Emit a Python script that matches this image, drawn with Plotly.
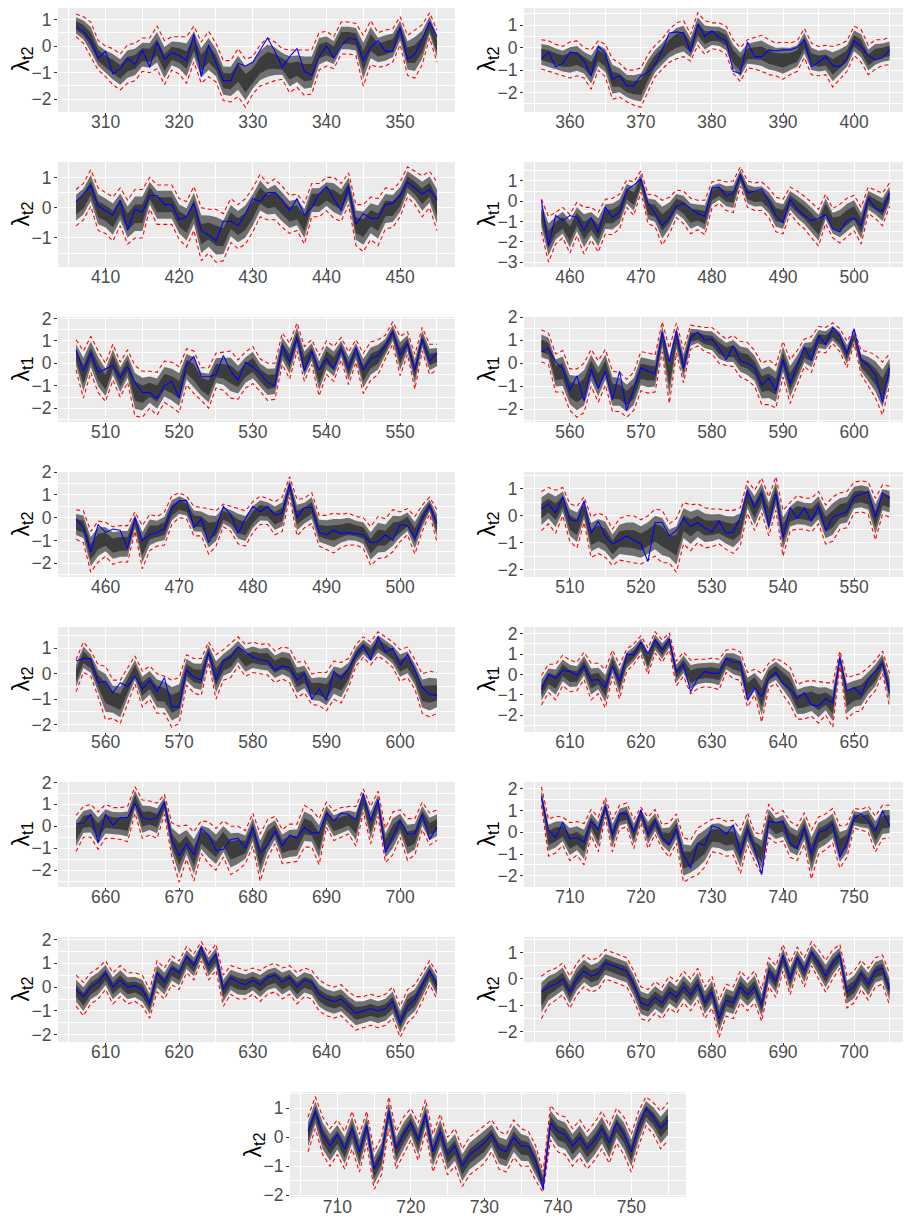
import plotly.graph_objects as go

W, H = 911, 1219
OFF = 8  # page body margin of the html page

# ---------------- data ----------------
starts = [306, 356, 406, 456, 506, 556, 456, 506, 556, 606, 656, 706, 606, 656, 706]
labels = ["t2", "t2", "t2", "t1", "t1", "t1", "t2", "t2", "t2", "t1", "t1", "t1", "t2", "t2", "t2"]

obs1 = [0.71, 0.55, 0.2, -0.45, -0.2, -1.05, -0.85, -0.45, -0.7, -0.15,
        -0.8, 0.15, -0.5, -0.25, -0.35, -0.55, 0.45, -1.15, 0.05, -0.6,
        -1.3, -1.3, -0.65, -0.75, -0.6, -0.15, 0.3, -0.2, -0.8, -0.4,
        -0.1, -0.95, -1.1, -0.4, 0.0, -0.45, 0.0, 0.3, 0.25, -0.55,
        -0.05, 0.2, -0.2, -0.2, 0.7, -0.5, -0.3, 0.25, 0.9, 0.35]
hi1 = [1.2, 1.1, 0.9, 0.2, 0.0, -0.1, -0.3, 0.05, 0.1, 0.3,
       0.3, 0.75, 0.2, 0.35, 0.35, 0.35, 0.75, 0.15, 0.55, 0.1,
       -0.55, -0.55, -0.1, -0.5, -0.4, 0.05, 0.3, 0.15, -0.1, -0.15,
       -0.15, -0.15, -0.15, 0.5, 0.55, 0.35, 0.9, 0.9, 0.85, 0.4,
       0.95, 0.5, 0.6, 0.65, 1.1, 0.4, 0.6, 0.8, 1.25, 0.6]
lo1 = [0.35, 0.1, -0.4, -0.9, -1.15, -1.45, -1.65, -1.4, -1.3, -0.95,
       -1.0, -0.85, -1.45, -0.9, -1.05, -1.4, -0.6, -1.4, -1.15, -1.35,
       -2.05, -2.1, -1.9, -2.3, -1.8, -1.5, -1.4, -1.3, -1.25, -1.75,
       -1.55, -1.85, -1.8, -0.9, -0.75, -0.85, -0.3, -0.3, -0.35, -1.5,
       -0.7, -0.8, -0.75, -0.6, 0.05, -1.1, -1.2, -0.7, 0.3, -0.6]

obs2 = [-0.5, -0.2, -0.85, -0.7, -0.2, -0.25, -0.6, -1.25, 0.05, -0.25,
        -1.4, -1.25, -1.7, -1.7, -1.25, -1.1, -0.75, -0.1, 0.65, 0.7,
        0.65, -0.2, 1.05, 0.5, 0.75, 0.45, 0.3, -1.05, -1.15, 0.25,
        -0.4, -0.4, -0.1, -0.15, -0.1, -0.1, 0.0, 0.35, -0.85, -0.65,
        -0.4, -0.8, -0.85, -0.5, 0.3, 0.05, -0.35, -0.55, -0.45, -0.1]
hi2 = [0.35, 0.3, 0.15, 0.05, 0.25, 0.3, 0.0, -0.1, 0.3, 0.15,
       -0.5, -0.7, -1.0, -1.0, -0.9, -0.3, 0.1, 0.4, 0.8, 1.1,
       1.2, 0.6, 1.55, 1.2, 1.1, 1.1, 0.95, 0.35, 0.0, 0.35,
       0.45, 0.55, 0.35, 0.2, 0.25, 0.2, 0.3, 0.85, 0.2, 0.05,
       0.1, 0.05, 0.15, 0.3, 0.95, 0.8, 0.1, 0.35, 0.35, 0.45]
lo2 = [-0.95, -1.05, -1.15, -1.25, -1.35, -1.25, -1.35, -1.85, -1.0, -1.3,
       -2.3, -2.2, -2.4, -2.55, -2.65, -1.95, -1.3, -0.95, -0.65, -0.5,
       -0.4, -0.6, 0.1, -0.3, -0.05, -0.1, -0.3, -1.15, -1.5, -0.9,
       -0.95, -1.05, -1.2, -1.25, -1.4, -1.2, -1.05, -0.45, -1.2, -1.25,
       -1.2, -1.75, -1.4, -1.05, -0.35, -0.65, -1.2, -0.95, -0.8, -0.75]

obs3 = [0.2, 0.45, 0.75, 0.05, -0.1, -0.25, 0.25, -0.75, -0.05, -0.15,
        0.4, 0.4, 0.1, 0.1, -0.4, -0.3, 0.15, -0.75, -0.9, -1.1,
        -0.45, -0.45, -0.6, -0.2, 0.3, 0.2, 0.5, 0.5, 0.25, -0.1,
        0.3, -0.25, 0.0, 0.45, 0.7, 0.3, -0.1, 0.7, -0.55, -0.2,
        -0.35, -0.35, 0.1, 0.15, 0.4, 0.85, 0.65, 0.45, 0.6, 0.25]
hi3 = [0.6, 0.8, 1.25, 0.65, 0.5, 0.35, 0.65, 0.25, 0.6, 0.6,
       1.0, 0.75, 0.75, 0.75, 0.3, 0.2, 0.7, 0.0, -0.05, -0.05,
       -0.2, 0.3, 0.1, 0.3, 0.65, 1.1, 0.8, 0.95, 0.7, 0.4,
       0.45, 0.15, 0.8, 0.8, 1.0, 1.0, 0.8, 1.15, 0.1, 0.1,
       0.35, 0.3, 0.65, 0.6, 0.85, 1.35, 1.2, 1.05, 1.2, 0.85]
lo3 = [-0.6, -0.4, 0.05, -0.75, -0.85, -1.1, -0.6, -1.2, -1.0, -1.0,
       -0.05, -0.55, -0.55, -0.55, -1.05, -1.3, -0.75, -1.75, -1.5, -1.8,
       -1.75, -1.15, -1.35, -1.2, -0.8, -0.3, -0.4, -0.4, -0.65, -0.85,
       -0.75, -1.2, -0.3, -0.3, -0.1, -0.35, -0.45, 0.1, -1.25, -1.45,
       -1.05, -1.25, -0.7, -0.65, -0.3, 0.35, 0.1, -0.3, 0.0, -0.75]

obs4 = [0.05, -2.2, -0.7, -0.95, -0.7, -0.8, -1.45, -0.8, -1.55, -0.3,
        -0.8, -0.55, 0.55, 0.8, 1.1, -0.1, -0.6, -1.2, -0.8, -0.25,
        -0.1, -0.35, -0.6, -0.75, 0.65, 0.7, 0.25, 0.4, 1.3, 0.4,
        0.5, 0.6, 0.0, -0.7, -1.05, 0.1, -0.4, -0.7, -0.95, -0.85,
        -0.65, -1.35, -1.5, -0.95, -0.8, -1.2, 0.15, -0.35, -0.5, 0.4]
hi4 = [0.1, -0.75, -0.55, -0.3, -0.65, -0.05, -0.3, -0.3, -0.55, 0.1,
       0.15, 0.35, 1.05, 0.95, 1.5, 0.35, 0.3, 0.05, 0.2, 0.55,
       0.5, 0.15, 0.05, 0.05, 0.95, 1.05, 0.95, 1.0, 1.7, 1.0,
       0.9, 0.95, 0.65, 0.2, 0.1, 0.7, 0.5, 0.25, -0.05, -0.4,
       0.35, -0.35, -0.15, 0.15, 0.3, -0.3, 0.7, 0.55, 0.4, 0.9]
lo4 = [-1.5, -3.0, -2.1, -1.8, -2.55, -1.7, -2.6, -1.9, -2.5, -1.6,
       -1.65, -1.35, -0.3, -0.7, 0.45, -1.1, -1.25, -2.15, -1.6, -0.8,
       -1.1, -1.6, -1.4, -1.65, -0.35, -0.1, -0.45, -0.55, 0.75, -0.3,
       -0.45, -0.45, -0.8, -1.5, -1.6, -0.6, -1.05, -1.35, -1.8, -2.2,
       -1.1, -1.8, -2.05, -1.75, -1.45, -2.1, -0.6, -0.85, -1.2, -0.25]

obs5 = [0.6, -0.35, 0.45, -0.4, -0.25, -0.1, -0.65, -0.15, -0.85, -1.3,
        -1.3, -1.55, -1.0, -0.8, -1.55, -0.05, 0.3, -0.6, -0.6, -0.5,
        0.35, -0.35, -0.75, 0.05, -0.15, -0.45, -0.85, -1.0, 0.8, 0.05,
        1.15, -0.35, 0.55, -0.3, 0.2, -0.25, 0.65, -0.25, 0.7, -0.3,
        0.2, 0.35, 0.8, 1.4, 0.35, 0.9, -0.3, 1.1, 0.1, 0.45]
hi5 = [1.05, 0.55, 1.2, 0.55, 0.0, 0.85, 0.05, 0.6, -0.1, -0.35,
       -0.35, -0.4, 0.1, 0.05, -0.15, 0.65, 0.55, -0.2, -0.2, 0.45,
       0.5, 0.55, 0.15, 0.5, 0.75, 0.2, 0.0, 0.0, 1.35, 0.9,
       1.8, 0.75, 1.05, 0.35, 1.0, 0.75, 1.15, 0.5, 1.05, 0.45,
       0.95, 1.05, 1.25, 1.85, 1.2, 1.4, 0.4, 1.6, 0.85, 0.85]
lo5 = [-0.3, -1.55, -0.4, -1.3, -1.7, -0.75, -1.5, -0.85, -2.35, -2.4,
       -2.0, -2.3, -1.75, -1.95, -2.2, -0.95, -1.35, -1.65, -2.0, -1.1,
       -1.2, -1.55, -1.6, -1.1, -0.9, -1.25, -1.65, -1.6, -0.05, -0.7,
       0.55, -0.8, -0.05, -1.45, -0.5, -0.8, 0.15, -0.95, 0.05, -1.35,
       -0.75, -0.5, 0.2, 0.85, -0.55, 0.4, -1.15, 0.55, -0.5, -0.3]

obs6 = [0.5, 0.65, 0.05, -0.25, -1.2, -0.55, -1.65, -0.25, -1.1, -0.35,
        -1.6, -0.35, -2.05, -1.1, -0.2, -0.35, -0.45, 1.35, 0.05, 1.4,
        -0.25, 1.1, 1.35, 1.0, 1.05, 0.65, 0.15, 0.75, 0.1, 0.0,
        -0.2, -0.95, -0.65, -1.2, 0.15, -0.9, -0.1, 0.7, 0.1, 1.2,
        0.8, 1.55, 1.2, 0.4, 1.5, 0.15, -0.1, -0.5, -1.7, -0.2]
hi6 = [1.45, 1.3, 0.4, 0.55, -0.25, -0.25, 0.0, 0.6, 0.1, 0.6,
       -0.35, -0.4, -0.7, -0.4, 0.5, 0.45, 0.35, 1.8, 0.65, 1.75,
       0.6, 1.65, 1.6, 1.55, 1.55, 1.3, 1.05, 1.2, 0.95, 0.9,
       0.55, 0.0, 0.15, -0.1, 0.95, 0.15, 0.55, 1.05, 1.15, 1.6,
       1.55, 1.75, 1.5, 0.95, 1.45, 0.55, 0.5, 0.35, 0.05, 0.4]
lo6 = [0.05, -0.05, -1.25, -1.25, -2.05, -2.35, -2.15, -1.0, -1.7, -0.95,
       -2.1, -2.1, -2.35, -2.05, -1.2, -1.3, -1.25, 0.5, -1.75, 0.45,
       -0.85, 0.6, 0.75, 0.5, 0.4, 0.0, -0.1, -0.15, -0.6, -0.75,
       -1.0, -1.8, -1.8, -1.95, -0.6, -1.75, -0.95, -0.15, -0.4, 0.5,
       0.45, 0.85, 0.5, -0.2, 0.85, -0.5, -1.0, -1.5, -2.25, -0.95]

obs7 = [-0.05, -0.45, -1.5, -0.3, -0.65, -0.5, -0.55, -1.35, 0.0, -1.0,
        -0.75, -0.65, -0.5, 0.4, 0.75, 0.75, -0.45, -0.05, -1.1, -0.5,
        0.5, 0.15, -0.7, -0.05, 0.5, 0.25, 0.5, 0.1, 0.2, 1.5,
        0.0, 0.45, 0.45, -0.65, -0.75, -0.55, -0.7, -0.65, -0.7, -0.75,
        -1.1, -1.05, -0.75, -1.0, -0.3, -0.35, -0.9, -0.05, 0.55, -0.25]
hi7 = [0.35, 0.3, -0.6, -0.15, -0.2, -0.4, -0.35, -0.35, 0.25, -0.35,
       0.15, 0.05, 0.25, 0.95, 1.1, 0.95, 0.5, 0.45, 0.4, 0.3,
       0.6, 0.5, 0.4, 0.3, 0.7, 0.95, 0.85, 0.7, 0.9, 1.8,
       0.8, 0.85, 1.1, 0.1, 0.1, 0.2, 0.15, 0.2, 0.05, 0.0,
       -0.4, 0.05, -0.05, 0.35, 0.25, 0.4, 0.05, 0.55, 0.9, 0.35]
lo7 = [-0.95, -1.1, -2.4, -1.95, -1.7, -2.05, -1.95, -1.95, -0.6, -2.25,
       -1.45, -1.25, -1.2, -0.3, 0.0, -0.05, -0.8, -0.8, -1.6, -1.25,
       -0.4, -0.6, -1.15, -1.25, -0.65, -0.3, -0.3, -0.75, -0.6, 0.9,
       -0.8, -0.45, -0.25, -1.25, -1.4, -1.55, -1.3, -1.2, -1.2, -1.35,
       -2.1, -1.8, -1.75, -1.5, -1.05, -0.75, -1.6, -0.6, 0.15, -1.05]

obs8 = [0.25, 0.45, 0.1, 0.7, -0.15, -0.2, 0.55, -0.65, -0.2, -0.75,
        -1.05, -0.9, -0.75, -0.9, -1.05, -1.7, -0.25, -0.25, -0.75, -0.55,
        -0.1, -0.4, -0.25, -0.45, -0.6, -0.2, -0.65, -0.6, -0.05, 0.95,
        0.3, 0.85, -0.4, 0.85, -0.8, 0.3, -0.1, 0.3, -0.2, 0.35,
        -0.55, -0.05, 0.05, 0.15, 0.7, 0.8, 0.9, -0.05, 0.85, 0.65]
hi8 = [0.9, 1.05, 0.95, 1.05, 0.45, 0.35, 0.7, -0.05, 0.1, 0.0,
       -0.5, -0.1, 0.0, 0.0, -0.15, 0.0, 0.25, 0.2, -0.3, -0.1,
       0.5, 0.4, 0.45, 0.3, 0.25, 0.25, 0.2, 0.2, 0.3, 1.3,
       0.95, 1.4, 0.7, 1.45, 0.2, 0.5, 0.75, 0.65, 0.65, 0.9,
       0.4, 0.7, 0.85, 0.9, 1.25, 1.3, 1.25, 0.65, 1.15, 1.1]
lo8 = [-0.55, -0.3, -0.65, 0.0, -0.95, -1.2, -0.25, -1.55, -1.4, -1.55,
       -1.85, -1.65, -1.7, -1.75, -1.8, -1.65, -1.5, -1.75, -1.75, -2.1,
       -1.05, -1.3, -1.0, -1.2, -1.15, -1.05, -1.25, -1.4, -1.1, 0.1,
       -0.55, 0.1, -0.75, 0.2, -1.5, -0.55, -0.5, -0.5, -0.6, -0.3,
       -1.05, -0.95, -0.5, -0.45, 0.1, 0.15, 0.05, -0.9, 0.05, -0.05]

obs9 = [0.5, 0.6, 0.6, -0.35, -0.3, -0.75, -0.35, -0.5, -0.1, -0.6,
        -0.25, -0.7, -0.15, -1.3, -1.3, 0.15, -0.15, -0.25, 0.85, -0.25,
        0.5, 0.65, 1.05, 0.85, 0.65, 0.55, 0.5, 0.15, 0.3, 0.25,
        -0.25, 0.0, -1.0, -0.6, -1.05, 0.1, -0.2, 0.2, 0.75, 1.1,
        0.55, 1.45, 0.85, 1.0, 0.35, 0.75, 0.15, -0.55, -0.8, -0.85]
hi9 = [0.55, 1.25, 0.9, 0.35, 0.3, -0.25, -0.25, 0.25, 0.7, 0.1,
       0.3, 0.0, -0.1, -0.25, -0.15, 0.75, 0.6, 0.6, 1.25, 0.75,
       0.95, 1.2, 1.45, 1.15, 1.25, 1.15, 1.2, 0.9, 1.05, 1.0,
       0.45, 0.5, 0.0, 0.05, 0.05, 0.5, 0.45, 0.6, 1.15, 1.45,
       1.25, 1.65, 1.45, 1.25, 0.95, 1.05, 0.55, 0.0, 0.1, 0.05]
lo9 = [-0.7, 0.05, -0.1, -0.9, -1.8, -1.75, -1.95, -1.15, -0.4, -1.3,
       -1.0, -1.55, -1.55, -2.1, -1.95, -0.45, -0.75, -0.85, 0.45, -1.0,
       -0.25, -0.15, 0.3, -0.1, 0.05, 0.0, -0.05, -0.35, -0.2, -0.35,
       -0.95, -0.75, -1.2, -1.25, -1.45, -1.0, -1.15, -0.55, 0.3, 0.65,
       0.35, 0.7, 0.5, 0.25, -0.3, -0.15, -0.6, -1.55, -1.7, -1.55]

obs10 = [-0.75, 0.0, -0.2, 0.2, 0.15, -0.05, 0.4, -0.3, -0.25, -0.65,
         0.4, -0.35, 1.0, 0.95, 1.6, 1.0, 1.7, 1.2, 1.75, 0.1,
         0.5, -0.85, -0.2, 0.15, 0.05, 0.05, 0.8, 0.6, 0.6, -1.25,
         -0.65, -1.1, -0.2, 0.1, -0.45, -0.7, -1.2, -0.9, -1.5, -1.55,
         -1.2, -1.4, 0.85, -0.8, -0.65, -1.0, -0.25, 0.15, 0.55, -0.9]
hi10 = [-0.05, 0.5, 0.5, 0.95, 0.7, 0.6, 1.1, 0.55, 0.55, 0.25,
        1.2, 0.45, 1.25, 1.5, 1.9, 1.3, 2.1, 1.7, 2.05, 0.65,
        1.1, 0.7, 0.75, 0.75, 0.8, 0.75, 1.2, 1.25, 1.1, 0.1,
        0.25, 0.05, 0.55, 0.8, 0.6, 0.35, -0.5, -0.35, -0.3, -0.35,
        -0.4, -0.45, 1.15, -0.15, -0.05, 0.05, 0.35, 0.7, 1.15, 0.05]
lo10 = [-1.5, -0.9, -1.25, -0.55, -0.85, -0.8, -0.25, -1.25, -0.95, -1.65,
        -0.1, -1.2, 0.15, 0.5, 1.0, 0.0, 1.05, 0.6, 1.2, -0.55,
        -0.1, -0.95, -0.7, -0.6, -0.65, -0.75, 0.1, -0.2, -0.3, -1.6,
        -1.0, -2.35, -0.65, -0.45, -1.0, -1.5, -2.2, -2.2, -2.05, -2.4,
        -2.0, -2.6, 0.4, -2.2, -1.85, -1.8, -1.2, -0.8, 0.05, -1.6]

obs11 = [0.1, 0.15, 0.55, -0.75, 0.55, 0.05, 0.4, 0.4, 1.05, 0.4,
         0.3, 0.4, 1.1, -0.6, -1.35, -0.8, -1.3, -0.1, -0.4, -1.1,
         -1.05, -0.6, -0.55, -1.0, -0.05, -1.2, -0.9, -0.2, -0.9, -0.4,
         -0.55, -0.05, -0.3, -0.3, 0.6, 0.25, 0.6, 0.55, 0.3, 1.5,
         0.25, 1.2, -1.2, -0.45, 0.25, -0.35, -0.35, 0.55, -0.6, -0.05]
hi11 = [0.5, 0.9, 1.0, 0.65, 1.0, 0.85, 0.85, 0.9, 1.8, 1.2,
        1.15, 1.05, 1.45, 0.15, 0.0, 0.05, -0.25, 0.25, 0.2, -0.1,
        0.25, 0.0, 0.0, -0.2, 0.6, -0.35, 0.3, 0.45, -0.15, 0.1,
        0.1, 0.95, 0.75, 0.35, 1.1, 0.7, 0.85, 0.9, 0.9, 1.7,
        0.9, 1.6, -0.1, 0.65, 0.75, 0.35, 0.35, 1.1, 0.6, 0.75]
lo11 = [-1.15, -0.5, -0.5, -1.05, -0.55, -0.55, -0.6, -0.7, 0.6, -0.55,
        -0.4, -0.55, 0.55, -1.4, -2.55, -1.5, -2.5, -1.25, -1.7, -2.0,
        -1.4, -2.2, -2.0, -1.7, -0.9, -2.5, -1.45, -0.8, -1.7, -1.65,
        -1.6, -0.95, -0.95, -1.75, -0.05, -0.65, -0.5, -0.35, -0.9, 0.65,
        -0.8, 0.45, -1.65, -1.3, -0.5, -1.55, -1.3, -0.15, -0.85, -0.65]

obs12 = [1.65, 0.1, -0.25, 0.45, -0.3, -0.25, -0.45, 0.5, 0.15, 1.2,
         -0.1, 0.85, 0.85, 0.0, 1.05, -0.1, 0.55, -0.25, -0.55, 0.15,
         -1.05, -1.65, -0.5, -0.6, 0.3, 0.2, -0.1, 0.35, -1.0, 0.15,
         -0.75, -1.95, 0.5, 0.45, 0.5, -0.5, -0.75, 0.2, -1.0, 0.0,
         0.1, 0.4, -1.15, -0.5, 0.65, 0.85, 0.5, 0.05, 1.0, 0.3]
hi12 = [2.1, 0.6, 0.75, 0.7, 0.45, 0.5, 0.4, 1.05, 0.7, 1.6,
        0.6, 1.25, 1.35, 0.6, 1.15, 0.7, 1.05, 0.35, 0.45, 0.85,
        -0.25, -0.35, 0.2, 0.4, 0.6, 0.65, 0.5, 0.55, 0.1, 0.9,
        0.0, -0.1, 1.3, 0.85, 1.0, 0.5, 0.3, 0.9, 0.1, 0.7,
        0.85, 1.1, 0.3, 0.35, 1.1, 1.05, 1.2, 0.75, 1.25, 1.25]
lo12 = [1.25, -1.1, -0.95, -0.6, -1.3, -1.05, -1.5, -0.15, -0.9, 0.7,
        -0.9, 0.15, 0.25, -0.75, 0.45, -0.75, -0.1, -0.75, -1.15, -0.5,
        -2.3, -2.1, -1.95, -1.6, -0.9, -0.95, -1.1, -1.05, -1.9, -0.6,
        -1.35, -1.95, -0.25, -0.5, -0.4, -1.15, -1.3, -0.55, -2.15, -1.0,
        -0.8, -0.5, -1.65, -1.15, 0.2, 0.1, 0.0, -0.9, -0.3, -0.25]

obs13 = [-0.1, -0.4, 0.0, 0.2, 0.6, 0.0, 0.3, 0.0, 0.05, -0.1,
         -0.7, 0.6, 0.2, 0.8, 0.6, 1.3, 0.9, 1.7, 0.9, 1.4,
         -0.1, 0.4, 0.2, 0.1, 0.3, 0.1, 0.4, 0.5, 0.2, 0.4,
         0.0, 0.3, 0.2, -0.3, -0.5, -0.6, -0.5, -0.8, -1.1, -1.0,
         -0.9, -1.0, -0.9, -0.6, -1.5, -0.8, -0.5, 0.1, 0.7, 0.1]
hi13 = [0.5, 0.2, 0.6, 0.8, 1.1, 0.6, 0.9, 0.6, 0.6, 0.5,
        -0.1, 1.1, 0.8, 1.3, 1.1, 1.7, 1.4, 1.9, 1.4, 1.8,
        0.5, 0.9, 0.8, 0.7, 0.8, 0.7, 0.9, 1.0, 0.8, 0.9,
        0.6, 0.8, 0.7, 0.3, 0.1, 0.0, 0.1, -0.2, -0.4, -0.4,
        -0.3, -0.4, -0.3, 0.0, -0.8, -0.1, 0.1, 0.6, 1.1, 0.6]
lo13 = [-0.8, -1.2, -0.7, -0.5, -0.1, -0.7, -0.4, -0.7, -0.6, -0.8,
        -1.3, -0.2, -0.5, 0.1, -0.1, 0.6, 0.3, 1.1, 0.3, 0.7,
        -0.8, -0.3, -0.5, -0.5, -0.3, -0.6, -0.3, -0.2, -0.5, -0.3,
        -0.7, -0.4, -0.5, -1.0, -1.2, -1.3, -1.2, -1.5, -1.8, -1.7,
        -1.6, -1.7, -1.6, -1.3, -2.1, -1.5, -1.2, -0.6, 0.1, -0.5]

obs14 = [-0.5, -0.3, -0.2, 0.0, -0.5, 0.0, 0.3, 0.1, 0.2, 0.6,
         0.5, 0.4, 0.3, -0.2, -0.9, -1.0, -0.7, -0.9, -0.5, -0.7,
         -0.3, -0.6, -0.2, -0.9, -0.5, -1.5, -0.8, -0.9, -0.3, -0.6,
         -0.3, -1.0, 0.3, -0.1, 0.9, 0.0, 0.8, 0.3, 1.0, 0.6,
         0.1, 0.6, 0.9, -0.5, -0.3, 0.2, -0.2, 0.3, 0.4, -0.4]
hi14 = [0.1, 0.3, 0.4, 0.6, 0.1, 0.6, 0.9, 0.7, 0.8, 1.1,
        1.0, 0.9, 0.8, 0.3, -0.3, -0.4, -0.1, -0.3, 0.1, -0.1,
        0.3, 0.0, 0.4, -0.3, 0.1, -0.8, -0.2, -0.3, 0.3, 0.0,
        0.3, -0.4, 0.8, 0.5, 1.3, 0.6, 1.2, 0.8, 1.4, 1.1,
        0.7, 1.1, 1.3, 0.1, 0.3, 0.7, 0.4, 0.8, 0.9, 0.2]
lo14 = [-1.5, -1.0, -0.8, -0.6, -1.1, -0.6, -0.3, -0.5, -0.4, 0.0,
        -0.1, -0.2, -0.3, -0.8, -1.5, -1.6, -1.3, -1.5, -1.1, -1.3,
        -0.9, -1.2, -0.8, -1.5, -1.1, -2.2, -1.4, -1.5, -0.9, -1.2,
        -0.9, -1.6, -0.3, -0.7, 0.3, -0.6, 0.3, -0.3, 0.5, 0.0,
        -0.5, 0.0, 0.4, -1.1, -0.9, -0.4, -0.8, -0.3, -0.2, -1.0]

obs15 = [0.2, 0.9, 0.1, -0.3, 0.1, -0.4, 0.3, -0.5, 0.4, -1.1,
         -0.6, 0.9, -0.4, 0.1, 0.5, -0.1, 0.8, -0.5, 0.2, -0.6,
         -0.3, -1.0, -0.6, -0.4, -0.2, 0.1, -0.4, -0.5, 0.0, -0.3,
         -0.3, -0.8, -1.8, 0.5, 0.2, 0.1, -0.3, 0.0, -0.4, -0.1,
         0.3, -0.2, 0.5, 0.1, -0.5, 0.4, 1.0, 0.7, 0.3, 0.6]
hi15 = [0.7, 1.4, 0.7, 0.3, 0.6, 0.2, 0.9, 0.1, 0.9, -0.5,
        0.0, 1.4, 0.2, 0.7, 1.0, 0.5, 1.3, 0.1, 0.8, 0.0,
        0.3, -0.4, 0.0, 0.2, 0.4, 0.6, 0.2, 0.1, 0.6, 0.3,
        0.2, -0.3, -1.2, 1.1, 0.8, 0.7, 0.3, 0.6, 0.2, 0.5,
        0.9, 0.4, 1.0, 0.7, 0.1, 0.9, 1.4, 1.2, 0.9, 1.2]
lo15 = [-0.5, 0.3, -0.6, -1.0, -0.6, -1.1, -0.4, -1.2, -0.2, -1.8,
        -1.3, 0.3, -1.1, -0.6, -0.1, -0.8, 0.2, -1.2, -0.5, -1.3,
        -1.0, -1.7, -1.3, -1.1, -0.9, -0.5, -1.1, -1.2, -0.7, -1.0,
        -1.0, -1.5, -1.9, -0.1, -0.5, -0.6, -1.0, -0.7, -1.1, -0.8,
        -0.4, -0.9, -0.2, -0.6, -1.2, -0.3, 0.4, 0.1, -0.4, -0.1]

OBS = [obs1, obs2, obs3, obs4, obs5, obs6, obs7, obs8, obs9, obs10, obs11, obs12, obs13, obs14, obs15]
HI = [hi1, hi2, hi3, hi4, hi5, hi6, hi7, hi8, hi9, hi10, hi11, hi12, hi13, hi14, hi15]
LO = [lo1, lo2, lo3, lo4, lo5, lo6, lo7, lo8, lo9, lo10, lo11, lo12, lo13, lo14, lo15]

# ---------------- layout (pixels, screen coordinates) ----------------
row_tops = [7, 162, 317, 472, 627, 782, 937, 1092]
PANEL_H = 105
col_x = {0: (58, 455), 1: (524, 907), 2: (290, 686)}
grid = [(0, 0), (0, 1), (1, 0), (1, 1), (2, 0), (2, 1), (3, 0), (3, 1),
        (4, 0), (4, 1), (5, 0), (5, 1), (6, 0), (6, 1), (7, 2)]


def fx(p):
    return min(max((p - OFF) / W, 0.0), 1.0)


def fy(p):
    return min(max(1 - (p - OFF) / H, 0.0), 1.0)


INNER_K = 0.38
OUTER_K = 0.71
BG = "#EBEBEB"
FONT = "Liberation Sans, Arial, sans-serif"
fig = go.Figure()
annotations = []
for i in range(15):
    n = i + 1
    xs = [starts[i] + k for k in range(len(OBS[i]))]
    hi, lo, obs = HI[i], LO[i], OBS[i]
    mid = [(a + b) / 2 for a, b in zip(hi, lo)]
    half = [(a - b) / 2 for a, b in zip(hi, lo)]
    xa = "x" if n == 1 else f"x{n}"
    ya = "y" if n == 1 else f"y{n}"
    for k, col in ((OUTER_K, "#707070"), (INNER_K, "#3C3C3C")):
        up = [m + k * h for m, h in zip(mid, half)]
        dn = [m - k * h for m, h in zip(mid, half)]
        fig.add_trace(go.Scatter(x=xs + xs[::-1], y=up + dn[::-1], fill="toself",
                                 fillcolor=col, line=dict(width=0), mode="lines",
                                 hoverinfo="skip", showlegend=False, xaxis=xa, yaxis=ya))
    for series in (hi, lo):
        fig.add_trace(go.Scatter(x=xs, y=series, mode="lines",
                                 line=dict(color="#FF0000", width=1.1, dash="4px,3px"),
                                 showlegend=False, xaxis=xa, yaxis=ya))
    fig.add_trace(go.Scatter(x=xs, y=obs, mode="lines", line=dict(color="#0000FF", width=1.1),
                             showlegend=False, xaxis=xa, yaxis=ya))

    r, c = grid[i]
    x0p, x1p = col_x[c]
    top = row_tops[r]
    bot = top + PANEL_H
    ymin = min(min(lo), min(obs))
    ymax = max(max(hi), max(obs))
    pad = 0.05 * (ymax - ymin)
    xmin, xmax = xs[0], xs[-1]
    xpad = 0.05 * (xmax - xmin)
    axis_common = dict(showgrid=True, gridcolor="white", gridwidth=1.2, zeroline=False,
                       showline=False, ticks="outside", ticklen=3, tickwidth=1,
                       tickcolor="#333333", automargin=False,
                       tickfont=dict(family=FONT, size=17.5, color="#4D4D4D"),
                       minor=dict(showgrid=True, gridcolor="white", gridwidth=0.6))
    fig.layout[f"xaxis{'' if n == 1 else n}"] = dict(
        domain=[fx(x0p), fx(x1p)], anchor=ya, range=[xmin - xpad, xmax + xpad],
        dtick=10, tick0=0, minor_dtick=5, ticklabelstandoff=-9, **axis_common)
    fig.layout[f"yaxis{'' if n == 1 else n}"] = dict(
        domain=[fy(bot), fy(top)], anchor=xa, range=[ymin - pad, ymax + pad],
        dtick=1, tick0=0, minor_dtick=0.5, ticklabelstandoff=-1, **axis_common)
    annotations.append(dict(text=f"λ<sub>{labels[i]}</sub>", xref="paper", yref="paper",
                            x=fx(x0p - 36), y=fy((top + bot) / 2), showarrow=False,
                            textangle=-90, xanchor="center", yanchor="middle",
                            font=dict(family=FONT, size=23, color="black")))

fig.update_layout(width=W, height=H, margin=dict(l=0, r=0, t=0, b=0, pad=0),
                  paper_bgcolor="white", plot_bgcolor=BG, annotations=annotations,
                  showlegend=False)
fig.write_html("out.html")
